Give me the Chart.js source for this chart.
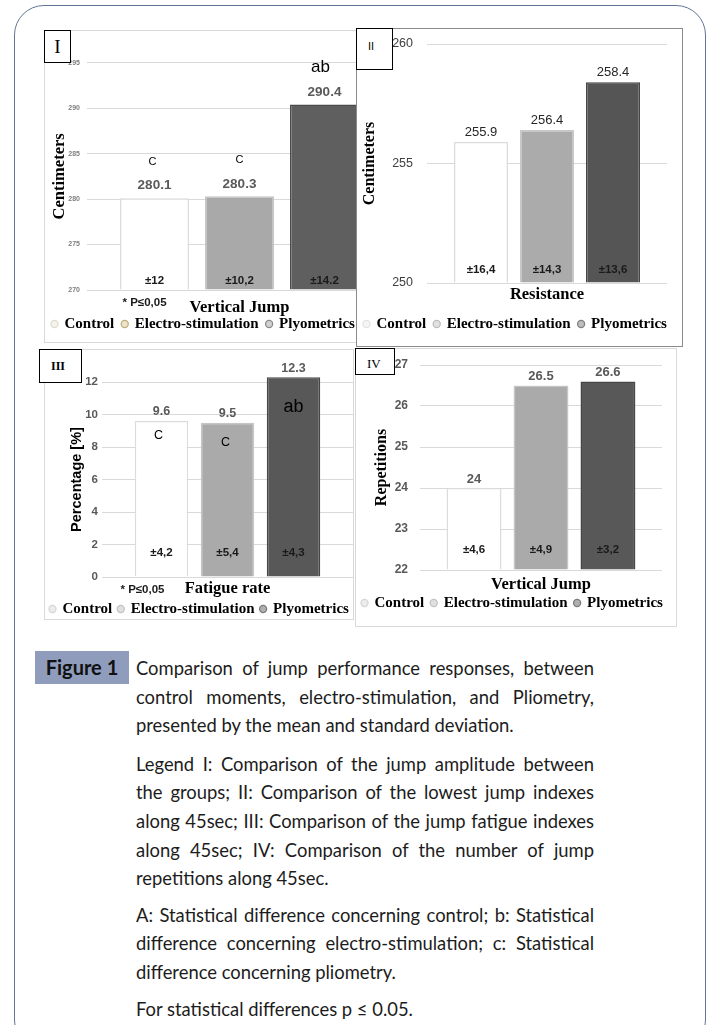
<!DOCTYPE html>
<html>
<head>
<meta charset="utf-8">
<script src="https://cdn.jsdelivr.net/npm/chart.js@4.4.0/dist/chart.umd.min.js"></script>
<style>
  body { margin: 0; width: 717px; height: 1025px; overflow: hidden; position: relative; background: #fff; font-family: Lato, sans-serif; }
  .frame { position: absolute; left: 14px; top: 5px; width: 692px; height: 1045px; border: 1.5px solid #617796; border-radius: 30px; box-sizing: border-box; }
  .panel { position: absolute; background: #fff; border: 1px solid #d9d9d9; box-sizing: border-box; }
  canvas { position: absolute; }
  .tag { position: absolute; background: #fff; border: 1px solid #000; box-sizing: border-box; color: #000; }
  .figlabel { position: absolute; left: 35px; top: 651px; width: 94px; height: 33px; background: #8f9cbc; color: #111; font: bold 20px Lato, sans-serif; line-height: 33px; text-align: center; }
  .caption { position: absolute; left: 136px; top: 654px; width: 458px; font-size: 18.4px; color: #1c1c1c; }
  .ln { height: 28.6px; line-height: 28.6px; white-space: nowrap; }
  .j { text-align: justify; text-align-last: justify; }
</style>
</head>
<body>
<div class="frame"></div>

<div class="panel" style="left:44px;top:30px;width:360px;height:313px;z-index:1"></div>
<canvas id="c1" width="360" height="313" style="left:44px;top:30px;z-index:2"></canvas>
<div class="tag" style="left:44px;top:30px;width:27px;height:33px;z-index:9;font:19px 'Liberation Serif';text-align:center;line-height:31px">I</div>

<div class="panel" style="left:356px;top:28px;width:327px;height:319px;z-index:3;border-color:#8a8a8a"></div>
<canvas id="c2" width="344" height="319" style="left:356px;top:28px;z-index:4"></canvas>
<div class="tag" style="left:356px;top:28px;width:37px;height:42px;z-index:9;font:11px 'Liberation Sans';padding:11px 0 0 11px">II</div>

<div class="panel" style="left:44px;top:349px;width:310px;height:271px;z-index:5"></div>
<canvas id="c3" width="330" height="278" style="left:44px;top:349px;z-index:6"></canvas>
<div class="tag" style="left:39px;top:349px;width:43px;height:34px;z-index:9;font:bold 12px 'Liberation Serif';padding:9px 0 0 11px">III</div>

<div class="panel" style="left:355px;top:348px;width:322px;height:279px;z-index:7"></div>
<canvas id="c4" width="345" height="279" style="left:355px;top:348px;z-index:8"></canvas>
<div class="tag" style="left:355px;top:348px;width:40px;height:27px;z-index:9;font:13px 'Liberation Serif';padding:7px 0 0 11px">IV</div>

<div class="figlabel">Figure 1</div>
<div class="caption">
  <div class="ln j">Comparison of jump performance responses, between</div>
  <div class="ln j">control moments, electro-stimulation, and Pliometry,</div>
  <div class="ln">presented by the mean and standard deviation.</div>
  <div class="ln j" style="margin-top:10px">Legend I: Comparison of the jump amplitude between</div>
  <div class="ln j">the groups; II: Comparison of the lowest jump indexes</div>
  <div class="ln j">along 45sec; III: Comparison of the jump fatigue indexes</div>
  <div class="ln j">along 45sec; IV: Comparison of the number of jump</div>
  <div class="ln">repetitions along 45sec.</div>
  <div class="ln j" style="margin-top:8px">A: Statistical difference concerning control; b: Statistical</div>
  <div class="ln j">difference concerning electro-stimulation; c: Statistical</div>
  <div class="ln">difference concerning pliometry.</div>
  <div class="ln" style="margin-top:8.5px">For statistical differences p ≤ 0.05.</div>
</div>

<script>
// groups shown in every panel
const groups = ['Control', 'Electro-stimulation', 'Plyometrics'];

// I: jump amplitude
const amplitudeCategory = ['Vertical Jump'];
const amplitudeMeans = [280.1, 280.3, 290.4];
const amplitudeSD = ['±12', '±10,2', '±14.2'];
const amplitudeLetters = ['C', 'C', 'ab'];
const amplitudeRange = [270, 295];
const amplitudeStep = 5;

// II: resistance
const resistanceCategory = ['Resistance'];
const resistanceMeans = [255.9, 256.4, 258.4];
const resistanceSD = ['±16,4', '±14,3', '±13,6'];
const resistanceRange = [250, 260];
const resistanceStep = 5;

// III: fatigue rate
const fatigueCategory = ['Fatigue rate'];
const fatigueMeans = [9.6, 9.5, 12.3];
const fatigueSD = ['±4,2', '±5,4', '±4,3'];
const fatigueLetters = ['C', 'C', 'ab'];
const fatigueRange = [0, 12];
const fatigueStep = 2;

// IV: repetitions
const repetitionsCategory = ['Vertical Jump'];
const repetitionsMeans = [24, 26.5, 26.6];
const repetitionsSD = ['±4,6', '±4,9', '±3,2'];
const repetitionsRange = [22, 27];
const repetitionsStep = 1;

const noteText = '* P≤0,05';

const SANS = "'Liberation Sans', Arial, sans-serif";
const SERIF = "'Liberation Serif', 'Times New Roman', serif";

// text drawn on and around the bars
function barLabels(cfg) {
  return {
    id: 'barLabels',
    afterDatasetsDraw(chart) {
      const ctx = chart.ctx;
      const area = chart.chartArea;
      ctx.save();
      ctx.textAlign = 'center';
      ctx.textBaseline = 'middle';
      chart.data.datasets.forEach((ds, i) => {
        const bar = chart.getDatasetMeta(i).data[0];
        ctx.font = cfg.valueFont;
        ctx.fillStyle = cfg.valueColor;
        ctx.fillText(String(ds.data[0]), bar.x, bar.y - cfg.valueGap);
        ctx.font = 'bold 11.5px ' + SANS;
        ctx.fillStyle = '#1a1a1a';
        ctx.fillText(cfg.sd[i], bar.x, area.bottom - cfg.sdGap);
        if (cfg.letters) {
          ctx.font = cfg.letterFonts[i];
          ctx.fillStyle = '#000';
          ctx.fillText(cfg.letters[i], bar.x + cfg.letterShift[i], bar.y + cfg.letterOffsets[i]);
        }
      });
      if (cfg.note) {
        const first = chart.getDatasetMeta(0).data[0];
        ctx.font = 'bold 11.5px ' + SANS;
        ctx.fillStyle = '#1a1a1a';
        ctx.fillText(noteText, first.x + cfg.noteShift, area.bottom + 13);
      }
      ctx.restore();
    }
  };
}

function makeChart(id, p) {
  const datasets = groups.map((g, i) => ({
    label: g,
    data: [p.means[i]],
    base: p.range[0],
    backgroundColor: p.fill[i],
    borderColor: p.edge[i],
    borderWidth: 1.5,
    clip: false
  }));
  return new Chart(document.getElementById(id), {
    type: 'bar',
    data: { labels: p.category, datasets: datasets },
    plugins: [barLabels(p.labels)],
    options: {
      responsive: false,
      animation: false,
      devicePixelRatio: 1,
      layout: { padding: { top: p.padTop, right: 0, bottom: p.padBottom, left: 0 } },
      datasets: { bar: { barPercentage: p.barPct, categoryPercentage: p.catPct } },
      plugins: {
        tooltip: { enabled: false },
        legend: {
          position: 'bottom',
          align: 'start',
          labels: {
            usePointStyle: true,
            pointStyle: 'circle',
            boxWidth: 5,
            boxHeight: 5,
            padding: p.legendPad,
            color: '#1a1a1a',
            font: { family: SERIF, weight: 'bold', size: 15 },
            generateLabels: (chart) => chart.data.datasets.map((ds, i) => ({
              text: ds.label,
              fillStyle: p.markerFill[i],
              strokeStyle: p.markerEdge[i],
              lineWidth: 1.3,
              pointStyle: 'circle',
              datasetIndex: i,
              hidden: false
            }))
          }
        }
      },
      scales: {
        x: {
          grid: { display: false, drawTicks: false },
          border: { display: false },
          ticks: { display: false },
          // the single category name is shown as the axis title (tick labels get clipped)
          title: { display: true, text: p.category[0], color: '#000', font: { family: SERIF, weight: 'bold', size: 16.5 }, padding: { top: 0, bottom: p.xShift } },
          afterFit: (s) => { s.height = p.xHeight; }
        },
        y: {
          min: p.range[0],
          max: p.range[1],
          grid: { color: '#d9d9d9', drawTicks: false },
          border: { display: false },
          ticks: { stepSize: p.step, color: p.tickColor, padding: p.yPad, font: p.tickFont },
          title: { display: true, text: p.yTitle, color: '#000', font: p.titleFont, padding: { top: p.titlePad, bottom: 0 } },
          afterFit: (s) => { s.width = p.yWidth; s.paddingTop = 0; s.paddingBottom = 0; }
        },
        // empty right-hand axis: only keeps the gap right of the plot
        gap: {
          type: 'linear',
          position: 'right',
          grid: { display: false, drawTicks: false },
          border: { display: false },
          ticks: { display: false },
          afterFit: (s) => { s.width = p.rightGap; s.paddingTop = 0; s.paddingBottom = 0; }
        }
      }
    }
  });
}

makeChart('c1', {
  category: amplitudeCategory, means: amplitudeMeans, range: amplitudeRange, step: amplitudeStep,
  fill: ['#ffffff', '#a9a9a9', '#5f5f5f'], edge: ['#dcdcdc', '#c6c6c6', '#4c4c4c'],
  markerFill: ['#f5f3ec', '#ece4cb', '#d2d2d2'], markerEdge: ['#e0dccd', '#bfae7c', '#8a8a8a'],
  padTop: 32.7, padBottom: 1.5, rightGap: 12,
  barPct: 0.812, catPct: 0.836, legendPad: 8, xShift: -9.2, xHeight: 18.5,
  yWidth: 43, yPad: 7, tickColor: '#7f7f7f', tickFont: { family: SANS, weight: 'bold', size: 7 },
  yTitle: 'Centimeters', titleFont: { family: SERIF, weight: 'bold', size: 16.5 }, titlePad: 6.1,
  labels: {
    valueFont: 'bold 13.5px ' + SANS, valueColor: '#595959', valueGap: 12.5,
    sd: amplitudeSD, sdGap: 9,
    letters: amplitudeLetters, letterFonts: ['11px ' + SANS, '11px ' + SANS, '17px ' + SANS],
    letterOffsets: [-36.5, -36.5, -37], letterShift: [-2, 0, -4],
    note: true, noteShift: -10
  }
});

makeChart('c2', {
  category: resistanceCategory, means: resistanceMeans, range: resistanceRange, step: resistanceStep,
  fill: ['#ffffff', '#ababab', '#555555'], edge: ['#dcdcdc', '#c8c8c8', '#444444'],
  markerFill: ['#f5f5f5', '#e2e2e2', '#bdbdbd'], markerEdge: ['#e3e3e3', '#bdbdbd', '#808080'],
  padTop: 16, padBottom: 5.5, rightGap: 33,
  barPct: 0.818, catPct: 0.825, legendPad: 8, xShift: 4, xHeight: 25.5,
  yWidth: 71, yPad: 14, tickColor: '#404040', tickFont: { family: SANS, size: 12.5 },
  yTitle: 'Centimeters', titleFont: { family: SERIF, weight: 'bold', size: 16 }, titlePad: 4.4,
  labels: {
    valueFont: '13px ' + SANS, valueColor: '#262626', valueGap: 9.5,
    sd: resistanceSD, sdGap: 13
  }
});

makeChart('c3', {
  category: fatigueCategory, means: fatigueMeans, range: fatigueRange, step: fatigueStep,
  fill: ['#ffffff', '#aaaaaa', '#585858'], edge: ['#dcdcdc', '#c6c6c6', '#474747'],
  markerFill: ['#ececec', '#e0e0e0', '#b0b0b0'], markerEdge: ['#d6d6d6', '#c2c2c2', '#7a7a7a'],
  padTop: 33, padBottom: 0.5, rightGap: 21,
  barPct: 0.81, catPct: 0.789, legendPad: 6, xShift: -3.2, xHeight: 18.5,
  yWidth: 58, yPad: 4, tickColor: '#595959', tickFont: { family: SANS, weight: 'bold', size: 11.5 },
  yTitle: 'Percentage [%]', titleFont: { family: SANS, weight: 'bold', size: 14.5 }, titlePad: 24.3,
  labels: {
    valueFont: 'bold 12.5px ' + SANS, valueColor: '#595959', valueGap: 9,
    sd: fatigueSD, sdGap: 24,
    letters: fatigueLetters, letterFonts: ['12.5px ' + SANS, '12.5px ' + SANS, '18px ' + SANS],
    letterOffsets: [15, 19.5, 30], letterShift: [-3, -2, 0],
    note: true, noteShift: -19
  }
});

makeChart('c4', {
  category: repetitionsCategory, means: repetitionsMeans, range: repetitionsRange, step: repetitionsStep,
  fill: ['#ffffff', '#aaaaaa', '#585858'], edge: ['#dcdcdc', '#c6c6c6', '#474747'],
  markerFill: ['#ececec', '#e0e0e0', '#b0b0b0'], markerEdge: ['#d6d6d6', '#c2c2c2', '#7a7a7a'],
  padTop: 17, padBottom: 6.5, rightGap: 38,
  barPct: 0.82, catPct: 0.83, legendPad: 7, xShift: -6.4, xHeight: 18.5,
  yWidth: 65, yPad: 12, tickColor: '#595959', tickFont: { family: SANS, weight: 'bold', size: 12 },
  yTitle: 'Repetitions', titleFont: { family: SERIF, weight: 'bold', size: 16 }, titlePad: 17.4,
  labels: {
    valueFont: 'bold 13px ' + SANS, valueColor: '#595959', valueGap: 8.7,
    sd: repetitionsSD, sdGap: 20
  }
});
</script>
</body>
</html>
